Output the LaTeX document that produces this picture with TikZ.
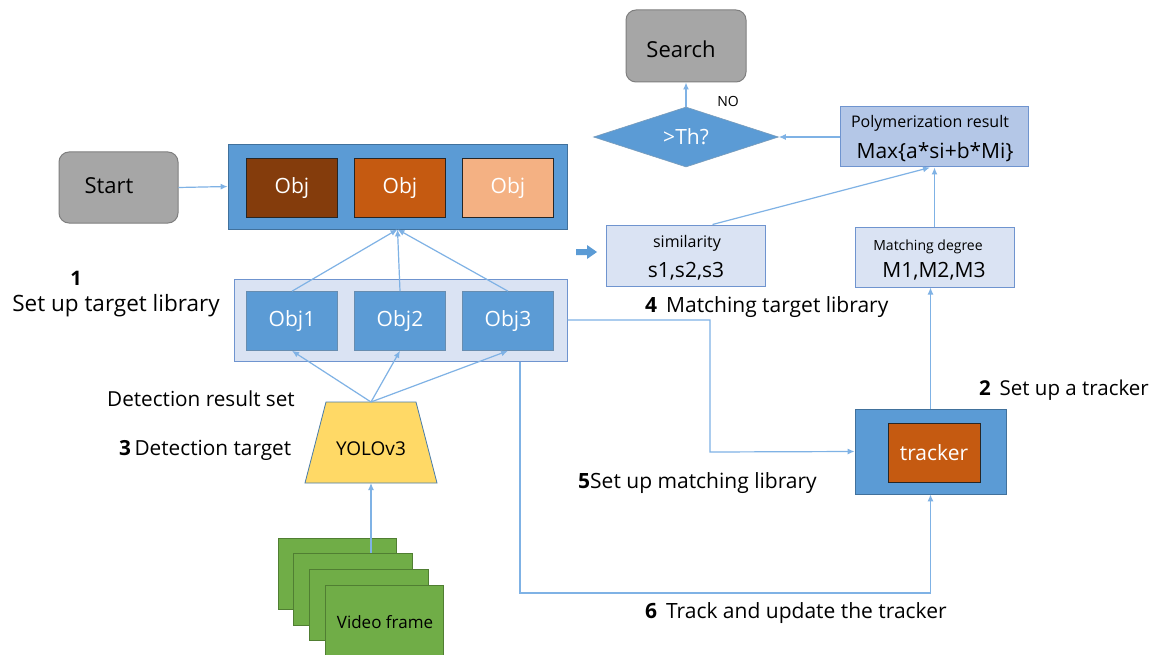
\documentclass[tikz,border=0pt]{standalone}
\usepackage{fontspec}
\setmainfont{Open Sans}
\usetikzlibrary{arrows.meta,shapes.geometric,calc}
\definecolor{cblue}{HTML}{5B9BD5}
\definecolor{cbluedark}{HTML}{41719C}
\definecolor{clight}{HTML}{DAE3F3}
\definecolor{clightborder}{HTML}{6F94CF}
\definecolor{cpoly}{HTML}{B4C7E7}
\definecolor{cgray}{HTML}{A6A6A6}
\definecolor{cgraydark}{HTML}{7F7F7F}
\definecolor{cbrown}{HTML}{843C0C}
\definecolor{corange}{HTML}{C55A11}
\definecolor{cpeach}{HTML}{F4B183}
\definecolor{cyellow}{HTML}{FFD966}
\definecolor{cgreen}{HTML}{70AD47}
\definecolor{cgreendark}{HTML}{507E32}
\definecolor{cline}{HTML}{7FB2E5}
\newcommand\fsz[1]{\fontsize{#1}{#1}\selectfont}
\tikzset{
  graybox/.style={draw=cgraydark, fill=cgray, rounded corners=10pt, line width=1pt, inner sep=0pt},
  bluebox/.style={draw=cbluedark, fill=cblue, line width=0.8pt, inner sep=0pt},
  lightbox/.style={draw=clightborder, fill=clight, line width=1pt, inner sep=0pt},
  objbox/.style={draw=black!85, line width=1pt, inner sep=0pt, minimum width=91pt, minimum height=59pt, text=white, font=\fsz{21}},
  detbox/.style={draw=cbluedark!80, fill=cblue, line width=0.6pt, inner sep=0pt, minimum width=91pt, minimum height=59pt, text=white, font=\fsz{21}},
  frame/.style={draw=cgreendark, fill=cgreen, line width=0.8pt},
  lbl/.style={inner sep=0pt, text=black},
  conn/.style={draw=cline, line width=1.2pt, -{Latex[length=7pt,width=6pt]}},
}
\begin{document}
\begin{tikzpicture}[x=1pt,y=-1pt]
\useasboundingbox[fill=white] (0,0) rectangle (1156,655);

% top right
\node[graybox, minimum width=120pt, minimum height=72pt] (search) at (686,46) {};
\node[lbl, font=\fsz{22}] (searcht) at (681,49) {Search};
\node[diamond, aspect=3, fill=cblue, draw=cbluedark!70, line width=0.6pt, inner sep=0pt,
      minimum width=185pt, minimum height=60pt, text=white, font=\fsz{21}] (th) at (686,137) {>Th?};
\node[lbl, font=\fsz{14}] (no) at (728,101) {NO};
\node[draw=clightborder, fill=cpoly, line width=1pt, minimum width=188pt, minimum height=60pt, inner sep=0pt] (poly) at (934,137) {};
\node[lbl, font=\fsz{16}] (polyt) at (930,123) {Polymerization result};
\node[lbl, font=\fsz{21}] (polym) at (935,152) {Max\{a*si+b*Mi\}};

% start and target library
\node[graybox, minimum width=119pt, minimum height=71pt] (start) at (118.5,187.5) {};
\node[lbl, font=\fsz{22}] (startt) at (109,186) {Start};
\node[bluebox, minimum width=339pt, minimum height=85pt] (lib) at (397.5,186.5) {};
\node[objbox, fill=cbrown] (o1) at (292,188) {Obj};
\node[objbox, fill=corange] (o2) at (400,188) {Obj};
\node[objbox, fill=cpeach] (o3) at (508,188) {Obj};

% detection result set
\node[lightbox, minimum width=333pt, minimum height=82pt] (set) at (400.5,320) {};
\node[detbox] (d1) at (292,321) {Obj1};
\node[detbox] (d2) at (400,321) {Obj2};
\node[detbox] (d3) at (508,321) {Obj3};

% similarity and matching degree
\fill[cblue] (576,249) -- (587,249) -- (587,245) -- (597,252) -- (587,259) -- (587,255) -- (576,255) -- cycle;
\node[lightbox, minimum width=159pt, minimum height=61pt] (sim) at (685.5,255.5) {};
\node[lbl, font=\fsz{16}] (simt) at (687,243) {similarity};
\node[lbl, font=\fsz{21}] (sims) at (686,271) {s1,s2,s3};
\node[lightbox, minimum width=159pt, minimum height=60pt] (md) at (934.5,257) {};
\node[lbl, font=\fsz{14}] (mdt) at (928,247) {Matching degree};
\node[lbl, font=\fsz{21}] (mdm) at (934,271) {M1,M2,M3};

% tracker
\node[bluebox, minimum width=151pt, minimum height=85pt] (tr) at (930.5,451.5) {};
\node[objbox, fill=corange, minimum width=92pt, minimum height=59pt, font=\fsz{21}] (tri) at (934,453) {tracker};

% YOLO trapezoid
\coordinate (yolotop) at (371,402);
\coordinate (yolobot) at (371,483);
\filldraw[fill=cyellow, draw=cblue!80!black, line width=0.8pt] (326,402) -- (416,402) -- (437,483) -- (305,483) -- cycle;
\node[lbl, font=\fsz{19}] (yolo) at (371,449) {YOLOv3};

% video frames
\node[frame, minimum width=118pt, minimum height=71pt, inner sep=0pt] (v1) at (337,573.5) {};
\node[frame, minimum width=119pt, minimum height=72pt, inner sep=0pt] (v2) at (352.5,589) {};
\node[frame, minimum width=119pt, minimum height=71pt, inner sep=0pt] (v3) at (368.5,604.5) {};
\node[frame, minimum width=118pt, minimum height=71pt, inner sep=0pt] (v4) at (384,620.5) {};
\node[lbl, font=\fsz{17}] (vt) at (385,622) {Video frame};

% labels
\node[lbl, font=\fsz{20}\bfseries] (n1) at (76,278) {1};
\node[lbl, font=\fsz{22.5}] (l1) at (116,306) {Set up target library};
\node[lbl, font=\fsz{20.7}] (ldr) at (201,399) {Detection result set};
\node[lbl, anchor=west, font=\fsz{20.8}] (l3) at (119,450) {\textbf{3}\,Detection target};
\node[lbl, anchor=west, font=\fsz{21}] (l4) at (645,307) {\textbf{4}\, Matching target library};
\node[lbl, anchor=west, font=\fsz{20.5}] (l2) at (979,390) {\textbf{2}\, Set up a tracker};
\node[lbl, anchor=west, font=\fsz{21}] (l5) at (578,483) {\textbf{5}Set up matching library};
\node[lbl, anchor=west, font=\fsz{21}] (l6) at (645,613) {\textbf{6}\, Track and update the tracker};

% connectors
\draw[conn] (th.north) -- (search.south);
\draw[conn] (poly.west) -- (th.east);
\draw[conn] (start.east) -- (lib.west);
\draw[conn] (d1.north) -- (lib.south);
\draw[conn] (d2.north) -- (lib.south);
\draw[conn] (d3.north) -- (lib.south);
\draw[conn] (yolotop) -- (d1.south);
\draw[conn] (yolotop) -- (d2.south);
\draw[conn] (yolotop) -- (d3.south);
\draw[conn] (v2.north -| yolobot) -- (yolobot);
\draw[conn] ([xshift=27pt]sim.north) -- ([xshift=-4pt]poly.south);
\draw[conn] (md.north) -- (md.north |- poly.south);
\draw[conn] (tr.north) -- (tr.north |- md.south);
\coordinate (bend) at (710,452);
\draw[conn] (set.east) -| (bend) -- (tr.west);
\coordinate (lp) at (520,593);
\draw[conn] (set.south -| lp) -- (lp) -| (tr.south);
\end{tikzpicture}
\end{document}
